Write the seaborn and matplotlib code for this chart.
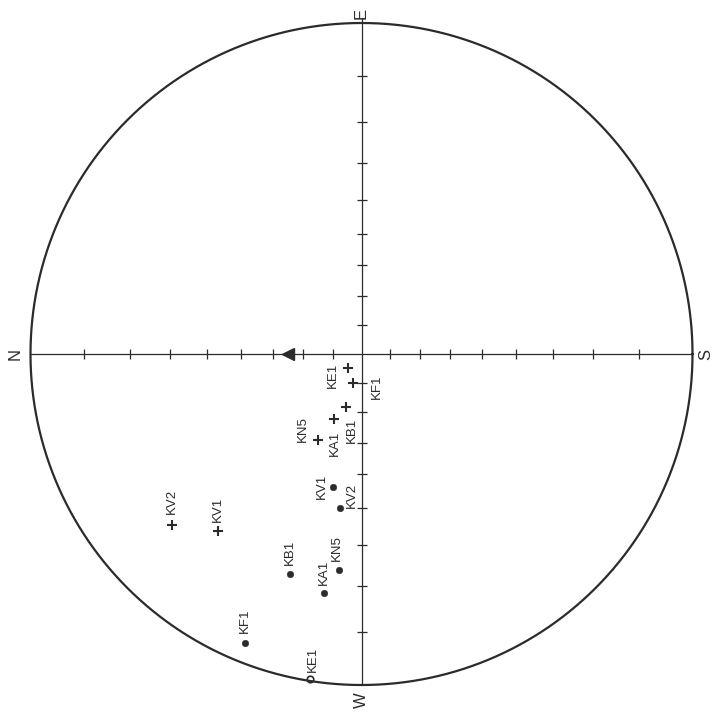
import matplotlib
matplotlib.use("Agg")
import matplotlib.pyplot as plt
import numpy as np
import pandas as pd
import seaborn as sns

# site mean directions (declination, inclination in degrees)
cross_labels = ['KE1', 'KF1', 'KB1', 'KA1', 'KN5', 'KV1', 'KV2']
cross_dec = [314, 286, 286, 293, 297, 309, 318]
cross_inc = [83.3, 79.6, 71.1, 65.9, 57.5, 20.8, 14.7]

dot_labels = ['KV1', 'KV2', 'KN5', 'KB1', 'KA1', 'KF1', 'KE1']
dot_dec = [282, 278, 276, 288, 279, 292, 279]
dot_inc = [45.4, 39.7, 23.5, 20.2, 17.6, 3.5, -0.3]

# reference field direction
ref_dec = [0]
ref_inc = [65]

cardinals = ['N', 'E', 'S', 'W']
tick_inc = [80, 70, 60, 50, 40, 30, 20, 10]

# label offsets in pixels (layout only)
cross_off = [(-15, -7), (24, -4), (6, -23), (1, -24), (-15, 11), (0, 22), (0, 23)]
dot_off = [(-11, 0), (12, 12), (-2, 22), (0, 21), (0, 21), (0, 22), (3, 20)]


def project(dec, inc):
    # stereographic (Wulff) projection, net drawn with N to the left, E up
    dec = np.radians(np.asarray(dec, dtype=float))
    inc = np.abs(np.asarray(inc, dtype=float))
    r = np.tan(np.radians(90 - inc) / 2)
    return -r * np.cos(dec), r * np.sin(dec)


sns.set_style("white")
plt.rcParams['font.family'] = ['Liberation Sans', 'DejaVu Sans']
ink = '#2b2b2b'

fig = plt.figure(figsize=(7.15, 7.26), dpi=100)
ax = fig.add_axes([0, 0, 1, 1])
ax.set_xlim(-361.5 / 331, 353.5 / 331)
ax.set_ylim(-372 / 331, 354 / 331)
ax.axis('off')

# primitive circle and axes
t = np.linspace(0, 2 * np.pi, 721)
ax.plot(np.cos(t), np.sin(t), color=ink, lw=1.6)
ax.plot([-1.0, 1.0], [0, 0], color=ink, lw=0.9)
ax.plot([0, 0], [-1.0, 1.015], color=ink, lw=0.9)

tr = np.tan(np.radians(90 - np.array(tick_inc)) / 2)
ax.plot(np.concatenate([-tr, tr]), np.zeros(2 * len(tr)), ls='none',
        marker='|', ms=7, mew=0.9, color=ink)
ax.plot(np.zeros(2 * len(tr)), np.concatenate([-tr, tr]), ls='none',
        marker='_', ms=7, mew=0.9, color=ink)

# cardinal labels (figure is rotated 90 degrees)
card_xy = [(-1.045, 0), (0, 1.03), (1.04, 0), (0, -1.045)]
for lab, (x, y) in zip(cardinals, card_xy):
    ax.text(x, y, lab, rotation=90, ha='center', va='center',
            fontsize=12, color=ink)

cx, cy = project(cross_dec, cross_inc)
dx, dy = project(dot_dec, dot_inc)
crosses = pd.DataFrame({'x': cx, 'y': cy, 'site': cross_labels})
dots = pd.DataFrame({'x': dx, 'y': dy, 'site': dot_labels,
                     'upper': np.array(dot_inc) < 0})

sns.scatterplot(data=crosses, x='x', y='y', marker='+', s=55,
                linewidth=1.5, color=ink, ax=ax, legend=False)
sns.scatterplot(data=dots[~dots['upper']], x='x', y='y', marker='o', s=22,
                color=ink, edgecolor=ink, ax=ax, legend=False)
sns.scatterplot(data=dots[dots['upper']], x='x', y='y', marker='o', s=22,
                facecolor='white', edgecolor=ink, linewidth=1.2, ax=ax,
                legend=False)

rx, ry = project(ref_dec, ref_inc)
ax.plot(rx, ry, ls='none', marker='<', ms=8, color=ink)

for (x, y, lab), off in zip(crosses[['x', 'y', 'site']].values, cross_off):
    ax.annotate(lab, (x, y), xytext=off, textcoords='offset pixels',
                rotation=90, ha='center', va='center', fontsize=9.5, color=ink)
for (x, y, lab), off in zip(dots[['x', 'y', 'site']].values, dot_off):
    ax.annotate(lab, (x, y), xytext=off, textcoords='offset pixels',
                rotation=90, ha='center', va='center', fontsize=9.5, color=ink)

fig.savefig('out.png', dpi=100, facecolor='white')
